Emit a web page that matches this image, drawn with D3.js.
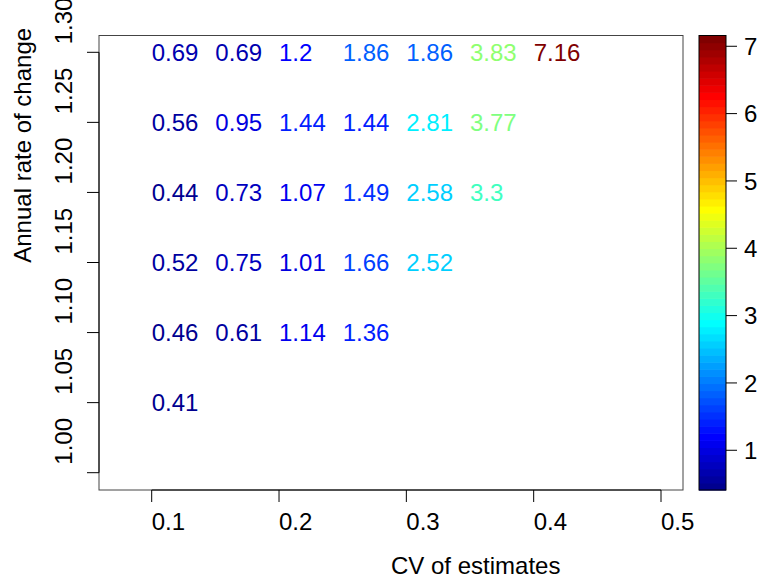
<!DOCTYPE html>
<html>
<head>
<meta charset="utf-8">
<script src="https://cdn.jsdelivr.net/npm/d3@7/dist/d3.min.js"></script>
<style>
  html, body { margin: 0; padding: 0; background: #fff; }
  svg { display: block; font-family: "Liberation Sans", Arial, Helvetica, sans-serif; }
</style>
</head>
<body>
<svg id="chart" width="759" height="579"></svg>
<script>
// Grid coordinates
const cvLevels = [0.10, 0.15, 0.20, 0.25, 0.30, 0.35, 0.40];
const rateLevels = [1.30, 1.25, 1.20, 1.15, 1.10, 1.05];

// Cell values, one row per annual rate (left to right along CV)
const row130 = [0.69, 0.69, 1.2, 1.86, 1.86, 3.83, 7.16];
const row125 = [0.56, 0.95, 1.44, 1.44, 2.81, 3.77];
const row120 = [0.44, 0.73, 1.07, 1.49, 2.58, 3.3];
const row115 = [0.52, 0.75, 1.01, 1.66, 2.52];
const row110 = [0.46, 0.61, 1.14, 1.36];
const row105 = [0.41];
const rows = [row130, row125, row120, row115, row110, row105];

// Axis ticks
const xTicks = [0.1, 0.2, 0.3, 0.4, 0.5];
const xTickLabels = ["0.1", "0.2", "0.3", "0.4", "0.5"];
const yTicks = [1.00, 1.05, 1.10, 1.15, 1.20, 1.25, 1.30];
const yTickLabels = ["1.00", "1.05", "1.10", "1.15", "1.20", "1.25", "1.30"];
const barTicks = [1, 2, 3, 4, 5, 6, 7];
const zRange = [0.41, 7.16];

// 64-step jet palette
const jetColors = ["#00008F","#00009F","#0000AF","#0000BF","#0000CF","#0000DF","#0000EF","#0000FF",
  "#0010FF","#0020FF","#0030FF","#0040FF","#0050FF","#0060FF","#0070FF","#0080FF",
  "#008FFF","#009FFF","#00AFFF","#00BFFF","#00CFFF","#00DFFF","#00EFFF","#00FFFF",
  "#10FFEF","#20FFDF","#30FFCF","#40FFBF","#50FFAF","#60FF9F","#70FF8F","#80FF80",
  "#8FFF70","#9FFF60","#AFFF50","#BFFF40","#CFFF30","#DFFF20","#EFFF10","#FFFF00",
  "#FFEF00","#FFDF00","#FFCF00","#FFBF00","#FFAF00","#FF9F00","#FF8F00","#FF8000",
  "#FF7000","#FF6000","#FF5000","#FF4000","#FF3000","#FF2000","#FF1000","#FF0000",
  "#EF0000","#DF0000","#CF0000","#BF0000","#AF0000","#9F0000","#8F0000","#800000"];

// Layout
const FONT = 24;
const box = { left: 99, right: 683, top: 35.5, bottom: 490 };
const bar = { left: 699, right: 726, top: 35.5, bottom: 490 };

const svg = d3.select("#chart");

const x = d3.scaleLinear().domain([0.1, 0.5]).range([151.7, 661]);
const y = d3.scaleLinear().domain([1.0, 1.3]).range([472.7, 52.3]);
const color = d3.scaleQuantize().domain(zRange).range(jetColors);
const yBar = d3.scaleLinear().domain(zRange).range([bar.bottom, bar.top]);

// Plot frame
svg.append("rect")
  .attr("x", box.left).attr("y", box.top)
  .attr("width", box.right - box.left).attr("height", box.bottom - box.top)
  .attr("fill", "none").attr("stroke", "#444").attr("stroke-width", 1);

// Bottom axis
const gx = svg.append("g").attr("transform", `translate(0,${box.bottom})`);
gx.append("line")
  .attr("x1", x(xTicks[0])).attr("x2", x(xTicks[xTicks.length - 1]))
  .attr("y1", 0).attr("y2", 0).attr("stroke", "#000");
gx.selectAll("line.tick").data(xTicks).join("line")
  .attr("class", "tick")
  .attr("x1", d => x(d)).attr("x2", d => x(d))
  .attr("y1", 0).attr("y2", 12).attr("stroke", "#000");
gx.selectAll("text").data(xTicks).join("text")
  .attr("x", d => x(d)).attr("y", 40)
  .attr("font-size", FONT).attr("fill", "#000")
  .text((d, i) => xTickLabels[i]);

// Left axis
const gy = svg.append("g").attr("transform", `translate(${box.left},0)`);
gy.append("line")
  .attr("x1", 0).attr("x2", 0)
  .attr("y1", y(yTicks[0])).attr("y2", y(yTicks[yTicks.length - 1]))
  .attr("stroke", "#000");
gy.selectAll("line.tick").data(yTicks).join("line")
  .attr("class", "tick")
  .attr("y1", d => y(d)).attr("y2", d => y(d))
  .attr("x1", 0).attr("x2", -12).attr("stroke", "#000");
gy.selectAll("text").data(yTicks).join("text")
  .attr("transform", d => `translate(-27,${y(d) - 8}) rotate(-90)`)
  .attr("font-size", FONT).attr("fill", "#000")
  .text((d, i) => yTickLabels[i]);

// Axis titles
svg.append("text")
  .attr("x", (box.left + box.right) / 2).attr("y", 574)
  .attr("font-size", FONT).attr("fill", "#000")
  .text("CV of estimates");
svg.append("text")
  .attr("transform", `translate(31,${(box.top + box.bottom) / 2}) rotate(-90)`)
  .attr("font-size", FONT).attr("fill", "#000")
  .text("Annual rate of change");

// Value labels coloured by the palette
const cells = [];
rows.forEach((vals, r) => vals.forEach((v, c) => cells.push({ cv: cvLevels[c], rate: rateLevels[r], v })));
svg.append("g").selectAll("text").data(cells).join("text")
  .attr("x", d => x(d.cv))
  .attr("y", d => y(d.rate))
  .attr("dy", "0.36em")
  .attr("font-size", FONT)
  .attr("fill", d => color(d.v))
  .text(d => String(d.v));

// Colour bar
const step = (zRange[1] - zRange[0]) / jetColors.length;
svg.append("g").selectAll("rect").data(jetColors).join("rect")
  .attr("x", bar.left)
  .attr("width", bar.right - bar.left)
  .attr("y", (c, i) => yBar(zRange[0] + (i + 1) * step))
  .attr("height", (c, i) => yBar(zRange[0] + i * step) - yBar(zRange[0] + (i + 1) * step) + 0.6)
  .attr("fill", c => c);
svg.append("rect")
  .attr("x", bar.left).attr("y", bar.top)
  .attr("width", bar.right - bar.left).attr("height", bar.bottom - bar.top)
  .attr("fill", "none").attr("stroke", "#000").attr("stroke-width", 1);

const gb = svg.append("g").attr("transform", `translate(${bar.right},0)`);
gb.selectAll("line").data(barTicks).join("line")
  .attr("x1", 0).attr("x2", 11)
  .attr("y1", d => yBar(d)).attr("y2", d => yBar(d))
  .attr("stroke", "#000");
gb.selectAll("text").data(barTicks).join("text")
  .attr("x", 18).attr("y", d => yBar(d)).attr("dy", "0.36em")
  .attr("font-size", FONT).attr("fill", "#000")
  .text(d => d);
</script>
</body>
</html>
